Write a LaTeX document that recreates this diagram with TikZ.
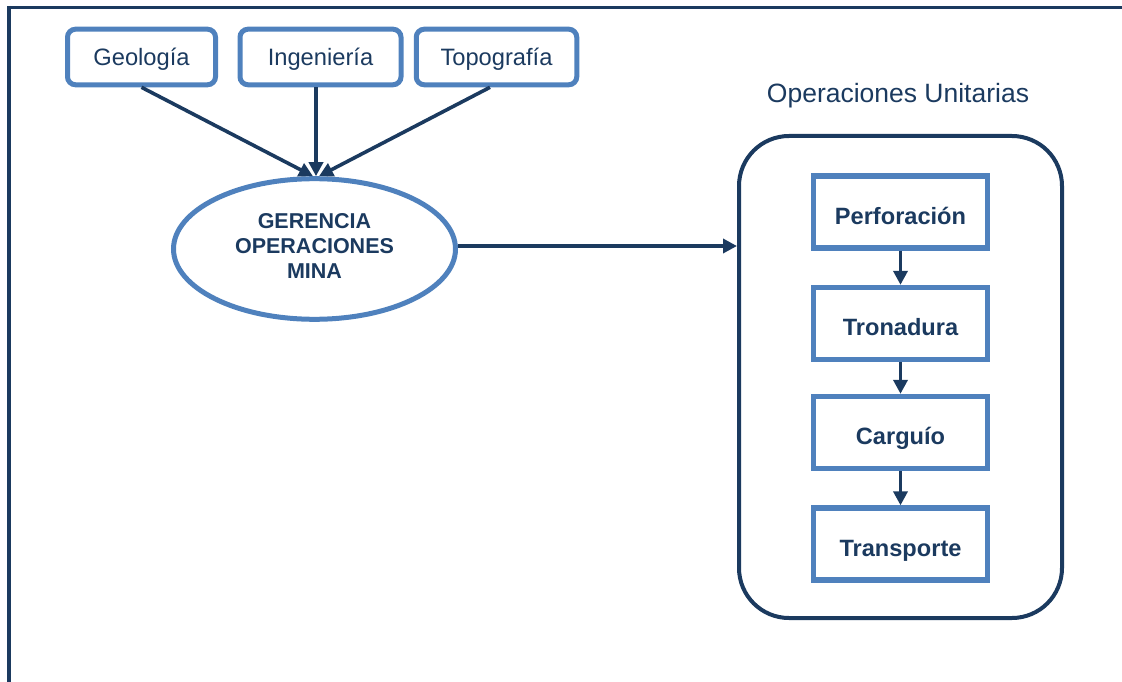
\documentclass[tikz,border=0pt]{standalone}
\usepackage{fontspec}
\setmainfont{Liberation Sans}
\usetikzlibrary{arrows.meta,shapes.geometric}
\definecolor{navy}{HTML}{1B3A5F}
\definecolor{lblue}{HTML}{4F81BD}
\begin{document}
\begin{tikzpicture}[x=1pt,y=-1pt,
  topbox/.style={draw=lblue, line width=5pt, rounded corners=8pt, minimum height=55.6pt, inner sep=0pt, text height=17pt, text depth=0pt, font=\fontsize{23.7}{28}\selectfont, text=navy},
  procbox/.style={draw=lblue, line width=5.3pt, minimum width=174pt, minimum height=72pt, inner sep=0pt, text height=24pt, text depth=0pt, font=\fontsize{23.6}{28}\selectfont\bfseries, text=navy},
  arr/.style={draw=navy, line width=3.6pt, -{Triangle[length=14pt,width=14pt]}},
  frameline/.style={draw=navy}
]
\useasboundingbox (0,0) rectangle (1122,682);
% frame
\draw[frameline, line width=3.3pt] (7,7.7) -- (1122,7.7);
\draw[frameline, line width=4pt] (9,6) -- (9,682);
% top boxes
\node[topbox, minimum width=148pt] (geo) at (141.5,57) {Geología};
\node[topbox, minimum width=161pt] (ing) at (320.5,57) {Ingeniería};
\node[topbox, minimum width=160.5pt] (topo) at (496.5,57) {Topografía};
% ellipse
\node[ellipse, draw=lblue, line width=5pt, minimum width=282pt, minimum height=140.6pt, inner sep=0pt] (ell) at (314.5,249) {};
\node[align=center, font=\fontsize{21.5}{25}\selectfont\bfseries, text=navy] (elltext) at (314.5,246.3) {GERENCIA\\OPERACIONES\\MINA};
% arrows into ellipse
\draw[arr] (geo.south) -- ([xshift=-1.5pt]ell.north);
\draw[arr] ([xshift=-4.5pt]ing.south) -- ([xshift=1.5pt]ell.north);
\draw[arr] ([xshift=-6.5pt]topo.south) -- ([xshift=4.5pt]ell.north);
% unit operations
\node[font=\fontsize{26.5}{30}\selectfont, text=navy, anchor=base] (title) at (898,103) {Operaciones Unitarias};
\node[draw=navy, line width=4pt, rounded corners=50pt, minimum width=323pt, minimum height=482pt] (ops) at (900.5,377) {};
\node[procbox] (perf) at (900.5,212) {Perforación};
\node[procbox] (tron) at (900.5,323.5) {Tronadura};
\node[procbox] (carg) at (900.5,432.5) {Carguío};
\node[procbox] (trans) at (900.5,544) {Transporte};
\draw[arr] (perf.south) -- (tron.north);
\draw[arr] (tron.south) -- (carg.north);
\draw[arr] (carg.south) -- (trans.north);
\draw[arr] ([yshift=3pt]ell.east) -- ([yshift=3pt]ell.east -| ops.west);
\end{tikzpicture}
\end{document}
